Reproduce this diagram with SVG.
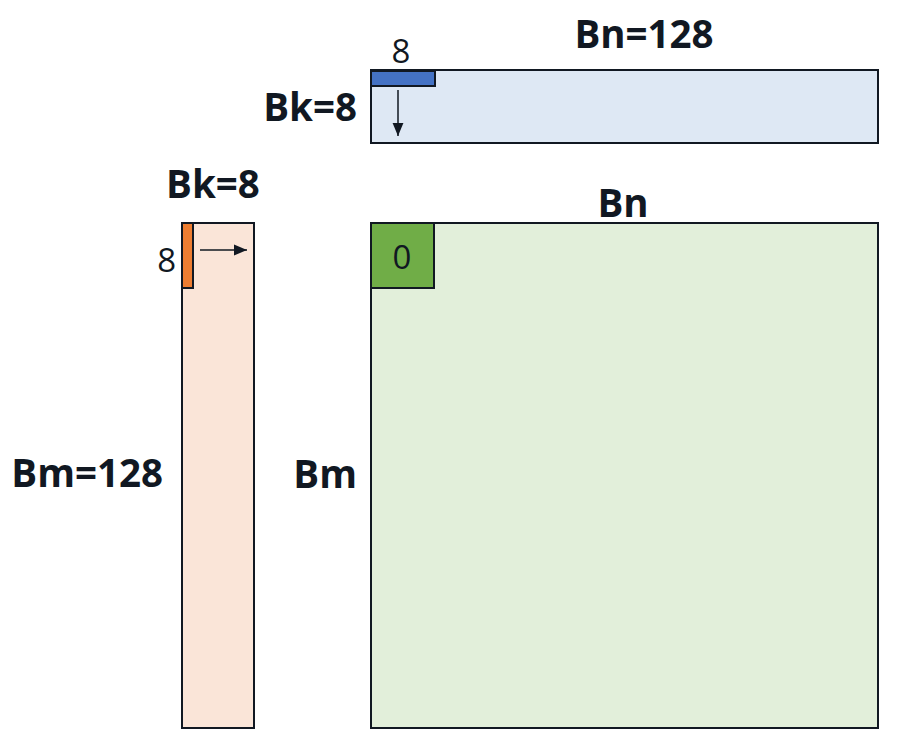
<svg xmlns="http://www.w3.org/2000/svg" width="910" height="750" viewBox="0 0 910 750">
<defs>
<marker id="ah2" viewBox="0 0 12 10" refX="12" refY="5" markerWidth="13" markerHeight="12" markerUnits="userSpaceOnUse" orient="auto"><path d="M0,0 L12,5 L0,10 z" fill="#111822"/></marker>
</defs>
<style>
.box{stroke:#111822;stroke-width:2}
.lb{font-family:"Open Sans","Noto Sans",sans-serif;font-weight:bold;font-size:38.5px;fill:#111822}
.num{font-family:"Open Sans","Noto Sans",sans-serif;font-size:33px;fill:#111822}
.ar{stroke:#111822;stroke-width:1.5;fill:none}
</style>
<rect width="910" height="750" fill="#ffffff"/>
<g id="matB">
<rect class="box" x="371" y="70" width="507" height="73" fill="#dee8f4"/>
<rect class="box" x="371" y="71" width="64" height="15" fill="#4472c4"/>
<text class="num" x="401" y="63" text-anchor="middle">8</text>
<text class="lb" x="644" y="48" text-anchor="middle">Bn=128</text>
<text class="lb" x="357" y="121" text-anchor="end">Bk=8</text>
</g>
<g id="matA">
<rect class="box" x="182" y="223" width="72" height="505" fill="#fae5d8"/>
<rect class="box" x="182" y="223" width="11" height="65" fill="#ed7d31"/>
<text class="lb" x="213" y="198" text-anchor="middle">Bk=8</text>
<text class="num" x="176" y="272" text-anchor="end">8</text>
<text class="lb" x="163" y="487" text-anchor="end">Bm=128</text>
</g>
<g id="matC">
<rect class="box" x="371" y="223" width="507" height="505" fill="#e2efda"/>
<rect class="box" x="371" y="223" width="63" height="65" fill="#70ad47"/>
<text class="num" x="402" y="269" text-anchor="middle" font-size="37">0</text>
<text class="lb" x="623" y="217" text-anchor="middle">Bn</text>
<text class="lb" x="357" y="488" text-anchor="end">Bm</text>
</g>
<g id="connectors">
<line class="ar" x1="398" y1="90" x2="398" y2="136" marker-end="url(#ah2)"/>
<line class="ar" x1="200" y1="250" x2="247" y2="250" marker-end="url(#ah2)"/>
</g>
</svg>
